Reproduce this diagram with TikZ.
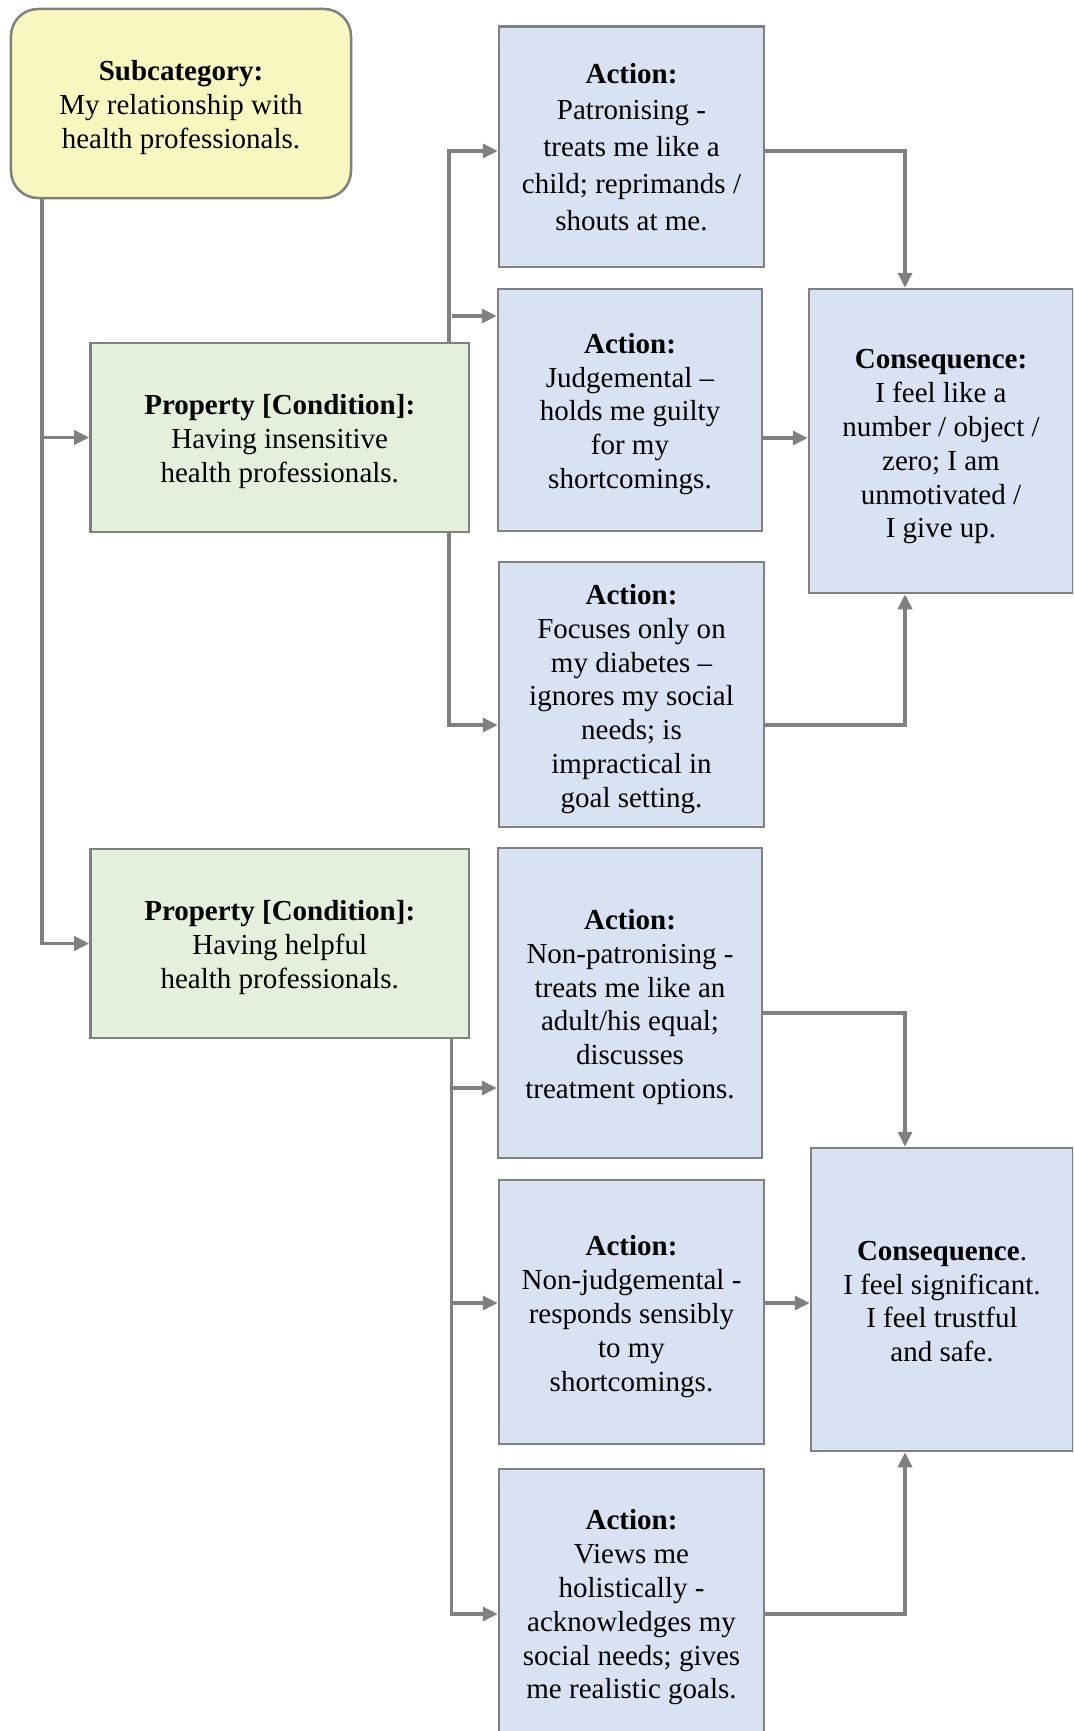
\documentclass[tikz,border=0pt]{standalone}
\usepackage{fontspec}
\setmainfont{Liberation Serif}
\usetikzlibrary{arrows.meta}

\definecolor{subfill}{RGB}{249,247,192}
\definecolor{propfill}{RGB}{228,239,220}
\definecolor{actfill}{RGB}{217,226,243}
\definecolor{edgegray}{RGB}{128,128,128}
\newcommand\boxfont{\fontsize{29bp}{33.8bp}\selectfont}

\tikzset{
  basebox/.style={draw=edgegray, line width=2.5bp, inner sep=0pt},
  subbox/.style={basebox, fill=subfill, rounded corners=27bp},
  propbox/.style={basebox, fill=propfill},
  actbox/.style={basebox, fill=actfill},
  boxtext/.style={align=center, font=\boxfont, inner sep=0pt},
  link/.style={draw=edgegray, line width=3.5bp},
  arrowlink/.style={link, -{Triangle[length=15bp,width=14bp]}},
}

\begin{document}
\begin{tikzpicture}[x=1bp, y=-1bp]
\useasboundingbox (0,0) rectangle (1073,1731);
\clip (0,0) rectangle (1073,1731);

% category and conditions
\node[subbox, minimum width=340bp, minimum height=189bp] (sub) at (181,103.5) {};
\node[boxtext] (sub-t) at ([yshift=-4bp]sub.center)
  {\textbf{Subcategory:}\\My relationship with\\health professionals.};
\node[propbox, minimum width=378.5bp, minimum height=189bp] (prop1) at (279.75,437.5) {};
\node[boxtext] (prop1-t) at ([yshift=-4bp]prop1.center)
  {\textbf{Property [Condition]:}\\Having insensitive\\health professionals.};
\node[propbox, minimum width=378.5bp, minimum height=189bp] (prop2) at (279.75,943.5) {};
\node[boxtext] (prop2-t) at ([yshift=-4bp]prop2.center)
  {\textbf{Property [Condition]:}\\Having helpful\\health professionals.};

% actions of insensitive professionals
\node[actbox, minimum width=265bp, minimum height=240.5bp] (a1) at (631.5,146.75) {};
\node[boxtext, font=\fontsize{29bp}{36.7bp}\selectfont] (a1-t) at (a1.center)
  {\textbf{Action:}\\Patronising -\\treats me like a\\child; reprimands /\\shouts at me.};
\node[actbox, minimum width=264bp, minimum height=242bp] (a2) at (630,410) {};
\node[boxtext] (a2-t) at ([yshift=-4bp]a2.center)
  {\textbf{Action:}\\Judgemental –\\holds me guilty\\for my\\shortcomings.};
\node[actbox, minimum width=265bp, minimum height=265bp] (a3) at (631.5,694.5) {};
\node[boxtext] (a3-t) at ([yshift=-4.5bp]a3.center)
  {\textbf{Action:}\\Focuses only on\\my diabetes –\\ignores my social\\needs; is\\impractical in\\goal setting.};
\node[actbox, minimum width=264bp, minimum height=304bp] (c1) at (941,441) {};
\node[boxtext] (c1-t) at ([yshift=-6bp]c1.center)
  {\textbf{Consequence:}\\I feel like a\\number / object /\\zero; I am\\unmotivated /\\I give up.};

% actions of helpful professionals
\node[actbox, minimum width=264bp, minimum height=310bp] (a4) at (630,1003) {};
\node[boxtext] (a4-t) at ([yshift=-4bp]a4.center)
  {\textbf{Action:}\\Non-patronising -\\treats me like an\\adult/his equal;\\discusses\\treatment options.};
\node[actbox, minimum width=265bp, minimum height=264bp] (a5) at (631.5,1312) {};
\node[boxtext] (a5-t) at ([yshift=-4.5bp]a5.center)
  {\textbf{Action:}\\Non-judgemental -\\responds sensibly\\to my\\shortcomings.};
\node[actbox, minimum width=265bp, minimum height=269bp] (a6) at (631.5,1603.5) {};
\node[boxtext] (a6-t) at ([yshift=-4bp]a6.center)
  {\textbf{Action:}\\Views me\\holistically -\\acknowledges my\\social needs; gives\\me realistic goals.};
\node[actbox, minimum width=262bp, minimum height=303bp] (c2) at (942,1299.5) {};
\node[boxtext] (c2-t) at ([yshift=-2bp]c2.center)
  {\textbf{Consequence}.\\I feel significant.\\I feel trustful\\and safe.};

% junction points of the connectors
\coordinate (tr) at (42,943.5);
\coordinate (b1) at (449,151);
\coordinate (j2) at (452,316);
\coordinate (j3) at (449,725);
\coordinate (k1) at (905,151);
\coordinate (k2) at (905,438);
\coordinate (b2) at (451.5,1614);
\coordinate (j4) at (451.5,1088);
\coordinate (j5) at (451.5,1303);
\coordinate (k4) at (905,1013);
\coordinate (k5) at (905,1303);

% subcategory to conditions
\draw[arrowlink] (sub.south -| tr) -- (tr) -- (prop2.west);
\draw[arrowlink] (tr |- prop1.west) -- (prop1.west);

% insensitive branch
\draw[arrowlink] (prop1.north -| b1) -- (b1) -- (a1.west |- b1);
\draw[arrowlink] (j2) -- (a2.west |- j2);
\draw[arrowlink] (prop1.south -| j3) -- (j3) -- (a3.west |- j3);
\draw[arrowlink] (a1.east |- k1) -- (k1) -- (c1.north -| k1);
\draw[arrowlink] (a2.east |- k2) -- (c1.west |- k2);
\draw[arrowlink] (a3.east |- j3) -| (c1.south -| k1);

% helpful branch
\draw[arrowlink] (prop2.south -| b2) -- (b2) -- (a6.west |- b2);
\draw[arrowlink] (j4) -- (a4.west |- j4);
\draw[arrowlink] (j5) -- (a5.west |- j5);
\draw[arrowlink] (a4.east |- k4) -- (k4) -- (c2.north -| k4);
\draw[arrowlink] (a5.east |- k5) -- (c2.west |- k5);
\draw[arrowlink] (a6.east |- b2) -| (c2.south -| k4);
\end{tikzpicture}
\end{document}
